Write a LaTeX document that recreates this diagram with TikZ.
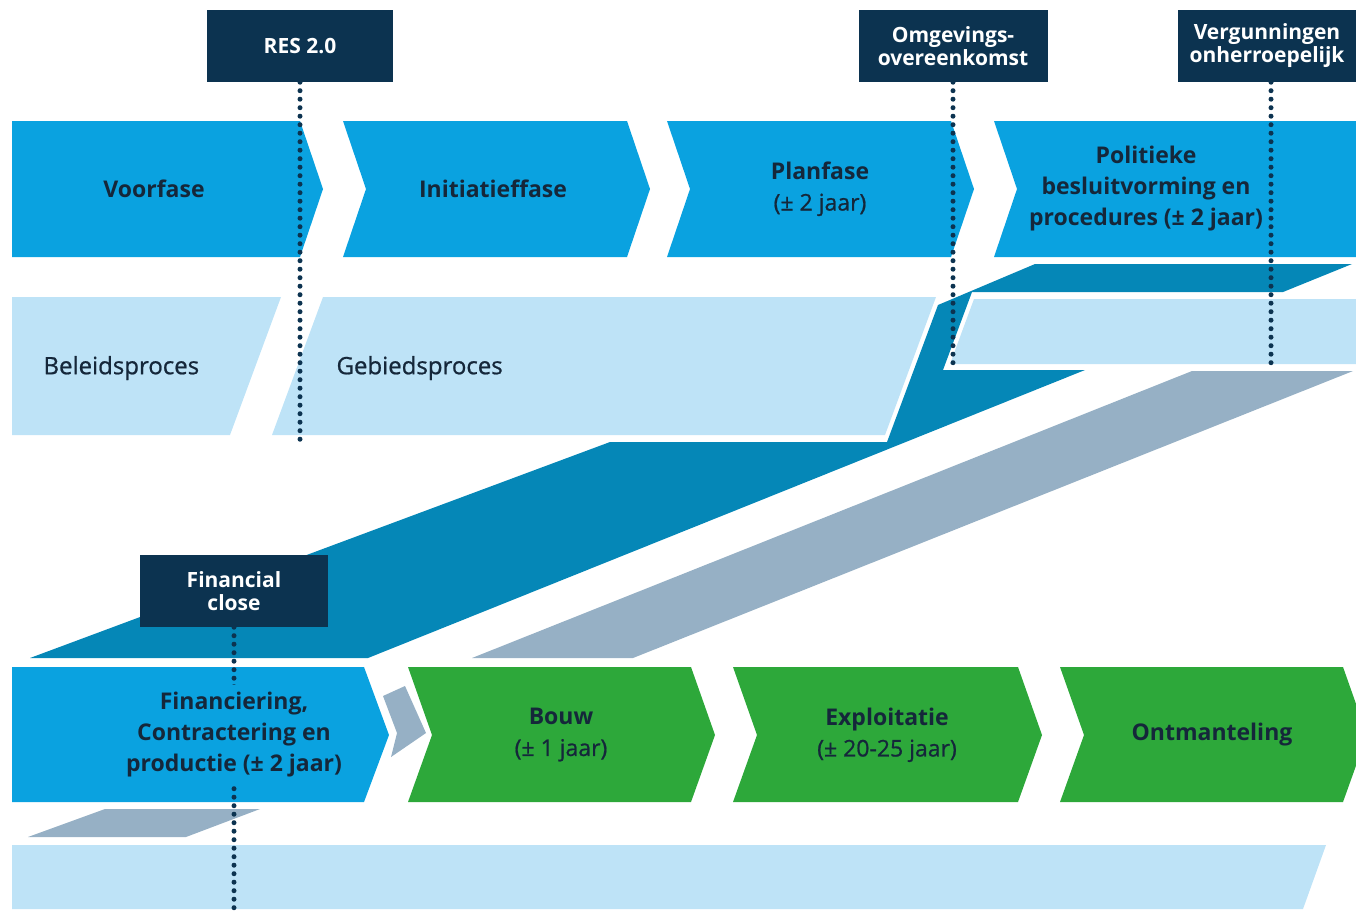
\documentclass[tikz,border=0pt]{standalone}
\usepackage{fontspec}
\setmainfont{Open Sans}
\newfontfamily\halfvet[FakeBold=0.8]{Open Sans}
\definecolor{faseblauw}{HTML}{0AA2E0}
\definecolor{lichtblauw}{HTML}{BEE3F7}
\definecolor{bandblauw}{HTML}{0587B7}
\definecolor{bandgrijs}{HTML}{96B0C5}
\definecolor{nachtblauw}{HTML}{0C3350}
\definecolor{fasegroen}{HTML}{2DA83A}
\definecolor{inkt}{HTML}{15273A}
\begin{document}
\begin{tikzpicture}[x=1pt, y=-1pt,
  fase/.style={font=\bfseries\fontsize{23}{31}\selectfont, text=inkt, align=center},
  proces/.style={font=\halfvet\fontsize{24}{28}\selectfont, text=inkt, anchor=west},
  mijlpaal/.style={fill=nachtblauw, text=white, align=center, inner sep=0pt,
    minimum height=72pt, font=\bfseries\fontsize{21}{23}\selectfont},
  stippel/.style={nachtblauw, line width=5pt, line cap=round, dash pattern=on 0pt off 8.5pt}]
  \useasboundingbox (0,0) rectangle (1356,914);
  \clip (0,0) rectangle (1356,914);
  % processen
  \fill[lichtblauw] (12,297) -- (281,297) -- (230,435) -- (12,435) -- cycle;
  \fill[lichtblauw] (323,297) -- (936,297) -- (885,435) -- (272,435) -- cycle;
  \fill[lichtblauw] (974,299) -- (1356,299) -- (1356,364) -- (950,364) -- cycle;
  \fill[lichtblauw] (12,845) -- (1326,845) -- (1303,909) -- (12,909) -- cycle;
  % banden
  \fill[bandblauw] (30,658) -- (610,442) -- (887,442) -- (938,305) -- (1035,264)
    -- (1352,264) -- (1283,292) -- (972,292) -- (943,370) -- (1085,370) -- (368,658) -- cycle;
  \fill[bandgrijs] (472,658) -- (633,658) -- (1353,371) -- (1192,371) -- cycle;
  \fill[bandgrijs] (105,809) -- (260,809) -- (186,837) -- (28,837) -- cycle;
  \fill[bandgrijs] (383,696) -- (405,686) -- (426,733) -- (391,757) -- (397,733) -- cycle;
  % fasen
  \fill[faseblauw] (12,121) -- (300,121) -- (323,189) -- (300,257) -- (12,257) -- cycle;
  \fill[faseblauw] (343,121) -- (627,121) -- (650,189) -- (627,257) -- (343,257) -- (366,189) -- cycle;
  \fill[faseblauw] (667,121) -- (951,121) -- (974,189) -- (951,257) -- (667,257) -- (690,189) -- cycle;
  \fill[faseblauw] (994,121) -- (1356,121) -- (1356,257) -- (994,257) -- (1017,189) -- cycle;
  \fill[faseblauw] (12,667) -- (364,667) -- (389,735) -- (364,802) -- (12,802) -- cycle;
  \fill[fasegroen] (408,667) -- (691,667) -- (715,735) -- (691,802) -- (408,802) -- (432,735) -- cycle;
  \fill[fasegroen] (733,667) -- (1018,667) -- (1042,735) -- (1018,802) -- (733,802) -- (757,735) -- cycle;
  \fill[fasegroen] (1060,667) -- (1343,667) -- (1367,735) -- (1343,802) -- (1060,802) -- (1084,735) -- cycle;
  % mijlpalen
  \node[mijlpaal, minimum width=186pt] (res) at (300,46) {RES 2.0};
  \node[mijlpaal, minimum width=189pt] (omgeving) at (953,46) {Omgevings-\\overeenkomst};
  \node[mijlpaal, minimum width=178pt] (vergunning) at (1267,46) {Vergunningen\\onherroepelijk};
  \node[mijlpaal, minimum width=188pt] (fclose) at (234,591) {Financial\\close};
  \coordinate (resend) at (300,440);
  \coordinate (omgend) at (953,368);
  \coordinate (vergend) at (1271,368);
  \coordinate (fcend) at (234,914);
  \draw[stippel] (res.south) -- (resend);
  \draw[stippel] (omgeving.south) -- (omgend);
  \draw[stippel] (vergend |- vergunning.south) -- (vergend);
  \draw[stippel] (fclose.south) -- (fcend);
  % teksten
  \node[fase] (voorfase) at (154,189) {Voorfase};
  \node[fase] (initiatief) at (493,189) {Initiatieffase};
  \node[fase] (plan) at (820,189) {Planfase\\\mdseries\halfvet(± 2 jaar)};
  \node[fase] (politiek) at (1146,189) {Politieke\\besluitvorming en\\procedures (± 2 jaar)};
  \node[proces] (beleid) at (40,368) {Beleidsproces};
  \node[proces] (gebied) at (333,368) {Gebiedsproces};
  \node[fase, fill=faseblauw, inner sep=8pt] (financiering) at (234,735)
    {Financiering,\\Contractering en\\productie (± 2 jaar)};
  \node[fase] (bouw) at (561,735) {Bouw\\\mdseries\halfvet(± 1 jaar)};
  \node[fase] (exploitatie) at (887,735) {Exploitatie\\\mdseries\halfvet(± 20-25 jaar)};
  \node[fase] (ontmanteling) at (1212,735) {Ontmanteling};
\end{tikzpicture}
\end{document}
